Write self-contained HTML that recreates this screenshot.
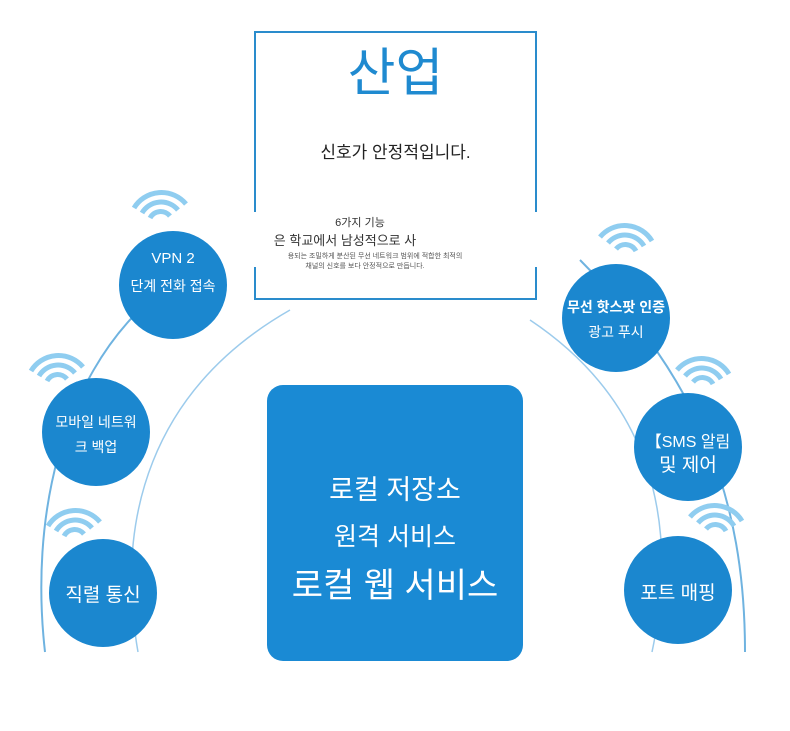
<!DOCTYPE html>
<html><head><meta charset="utf-8"><style>
body{margin:0;background:#fff;width:790px;height:731px;overflow:hidden;position:relative;font-family:"Liberation Sans","Noto Sans CJK KR",sans-serif}
.t{position:absolute;text-align:center;white-space:nowrap}
</style></head><body>
<svg width="790" height="731" style="position:absolute;left:0;top:0">
<g fill="none" stroke-linecap="butt">
<path d="M45,652 C30,520 60,380 150,300" stroke="#6fb3e0" stroke-width="2"/>
<path d="M138,652 C115,520 150,390 290,310" stroke="#9ccbec" stroke-width="1.5"/>
<path d="M745,652 C745,500 700,380 580,260" stroke="#6fb3e0" stroke-width="2"/>
<path d="M652,652 C680,520 650,400 530,320" stroke="#9ccbec" stroke-width="1.5"/>
</g>
<rect x="255" y="32" width="281" height="267" fill="#fff" stroke="#2a8ccc" stroke-width="2"/>
<rect x="240" y="212" width="310" height="55" fill="#fff"/>
<rect x="267" y="385" width="256" height="276" rx="16" fill="#1a8ad4"/>
<g fill="#1b87cf">
<circle cx="173" cy="285" r="54"/><circle cx="96" cy="432" r="54"/><circle cx="103" cy="593" r="54"/>
<circle cx="616" cy="318" r="54"/><circle cx="688" cy="447" r="54"/><circle cx="678" cy="590" r="54"/>
</g>
<g fill="none" stroke="#8fcdf0" stroke-width="5">
<g transform="translate(158,222)"><path d="M-8,-4 A12,12 0 0 1 12,-6"/><path d="M-16,-9 A22,22 0 0 1 20,-12"/><path d="M-24,-14 A32,32 0 0 1 28,-18"/></g>
<g transform="translate(55,385)"><path d="M-8,-4 A12,12 0 0 1 12,-6"/><path d="M-16,-9 A22,22 0 0 1 20,-12"/><path d="M-24,-14 A32,32 0 0 1 28,-18"/></g>
<g transform="translate(72,540)"><path d="M-8,-4 A12,12 0 0 1 12,-6"/><path d="M-16,-9 A22,22 0 0 1 20,-12"/><path d="M-24,-14 A32,32 0 0 1 28,-18"/></g>
<g transform="translate(628,255)"><path d="M-12,-6 A12,12 0 0 1 8,-4"/><path d="M-20,-12 A22,22 0 0 1 16,-9"/><path d="M-28,-18 A32,32 0 0 1 24,-14"/></g>
<g transform="translate(705,388)"><path d="M-12,-6 A12,12 0 0 1 8,-4"/><path d="M-20,-12 A22,22 0 0 1 16,-9"/><path d="M-28,-18 A32,32 0 0 1 24,-14"/></g>
<g transform="translate(718,535)"><path d="M-12,-6 A12,12 0 0 1 8,-4"/><path d="M-20,-12 A22,22 0 0 1 16,-9"/><path d="M-28,-18 A32,32 0 0 1 24,-14"/></g>
</g>
</svg>
<div class="t" style="left:255px;width:281px;top:42px;font-size:52px;color:#1f8ad0;line-height:64px">산업</div>
<div class="t" style="left:255px;width:281px;top:138px;font-size:17px;color:#222">신호가 안정적입니다.</div>
<div class="t" style="left:250px;width:220px;top:214px;font-size:11px;color:#333">6가지 기능</div>
<div class="t" style="left:245px;width:200px;top:230px;font-size:13px;color:#333">은 학교에서 남성적으로 사</div>
<div class="t" style="left:240px;width:270px;top:251px;font-size:7px;color:#555">용되는 조밀하게 분산된 무선 네트워크 범위에 적합한 최적의</div>
<div class="t" style="left:255px;width:220px;top:261px;font-size:7px;color:#555">채널의 신호를 보다 안정적으로 만듭니다.</div>
<div class="t" style="left:119px;width:108px;top:250px;font-size:15px;color:#fff">VPN 2</div>
<div class="t" style="left:110px;width:126px;top:276px;font-size:14px;color:#fff">단계 전화 접속</div>
<div class="t" style="left:36px;width:120px;top:412px;font-size:14px;color:#fff">모바일 네트워</div>
<div class="t" style="left:36px;width:120px;top:437px;font-size:14px;color:#fff">크 백업</div>
<div class="t" style="left:43px;width:120px;top:580px;font-size:19px;color:#fff">직렬 통신</div>
<div class="t" style="left:556px;width:120px;top:297px;font-size:14px;color:#fff;font-weight:bold">무선 핫스팟 인증</div>
<div class="t" style="left:556px;width:120px;top:322px;font-size:14px;color:#fff">광고 푸시</div>
<div class="t" style="left:628px;width:120px;top:428px;font-size:16px;color:#fff">【SMS 알림</div>
<div class="t" style="left:628px;width:120px;top:450px;font-size:19px;color:#fff">및 제어</div>
<div class="t" style="left:618px;width:120px;top:578px;font-size:19px;color:#fff">포트 매핑</div>
<div class="t" style="left:267px;width:256px;top:468px;font-size:27px;color:#fff">로컬 저장소</div>
<div class="t" style="left:267px;width:256px;top:517px;font-size:25px;color:#fff">원격 서비스</div>
<div class="t" style="left:262px;width:266px;top:558px;font-size:34px;color:#fff">로컬 웹 서비스</div>
</body></html>
